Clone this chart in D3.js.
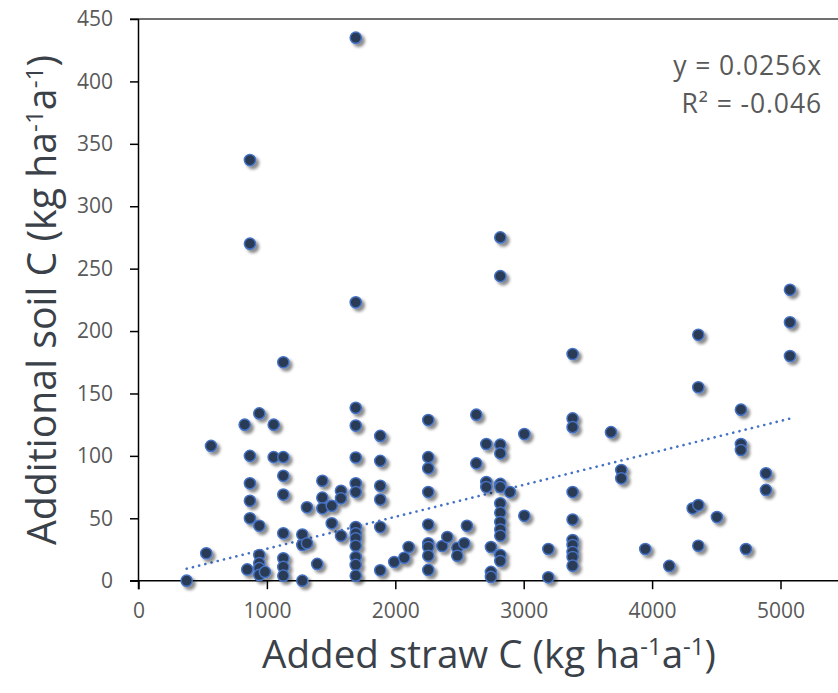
<!DOCTYPE html>
<html><head><meta charset="utf-8">
<script src="https://cdn.jsdelivr.net/npm/d3@7"></script>
<style>body{margin:0;background:#fff} svg{display:block}</style>
</head><body>
<svg id="chart" width="838" height="693"></svg>
<script>
// ---- data ----
const strawC = [
  375, 528, 565, 827, 847,
  868, 868, 868, 868, 868, 868,
  941, 941, 941, 941, 941, 941, 985,
  1053, 1053,
  1128, 1128, 1128, 1128, 1128, 1128, 1128, 1128,
  1276, 1276, 1276, 1312, 1312, 1392,
  1432, 1432, 1432, 1505, 1505, 1577, 1577, 1577,
  1692, 1692, 1692, 1692, 1692, 1692, 1692, 1692, 1692, 1692, 1692, 1692, 1692, 1692,
  1883, 1883, 1883, 1883, 1883, 1883,
  1992, 2070, 2104,
  2257, 2257, 2257, 2257, 2257, 2257, 2257, 2257, 2257,
  2366, 2405, 2483, 2483, 2537, 2558, 2631, 2631,
  2709, 2709, 2709, 2745, 2745, 2745,
  2818, 2818, 2818, 2818, 2818, 2818, 2818, 2818, 2818, 2818, 2818, 2818, 2818,
  2893, 3005, 3005, 3192, 3192,
  3381, 3381, 3381, 3381, 3381, 3381, 3381, 3381, 3381, 3381,
  3680, 3760, 3760, 3947, 4134, 4316,
  4360, 4360, 4360, 4360, 4505,
  4692, 4692, 4692, 4731, 4887, 4887,
  5074, 5074, 5074
];
const soilC = [
  0, 22, 108, 125, 9,
  337, 270, 100, 78, 64, 50,
  134, 44, 20.6, 14, 10, 4.6, 7,
  125, 99,
  175, 99, 84, 69, 38, 18, 11, 4,
  37, 28.6, 0, 58.8, 30, 13.4,
  80, 66.5, 58, 60, 46, 72, 66, 36,
  435, 223, 138.5, 124.3, 98.7, 78, 71, 43, 38, 34, 28, 19, 12.6, 4,
  116, 96, 76, 65, 43, 8.3,
  15, 18.4, 27,
  128.7, 99, 90, 71, 45, 30, 27, 20, 8.6,
  27.8, 35, 26.4, 20, 30, 44, 133, 94,
  109.5, 79, 75, 27, 7, 3,
  275, 244, 109, 102, 77.5, 75, 62, 54.5, 47, 41, 36, 20.6, 15.8,
  71, 117.5, 52, 25.4, 2.7,
  181.6, 130, 123, 71, 49, 32.6, 28.6, 23, 19, 12,
  119, 88.7, 82, 25.4, 11.8, 58,
  197, 155, 60.6, 28, 51,
  137, 109.5, 104.7, 25.4, 86, 72.7,
  233, 207, 180
];
const xTicks = [0, 1000, 2000, 3000, 4000, 5000];
const yTicks = [0, 50, 100, 150, 200, 250, 300, 350, 400, 450];
const trendSlope = 0.0256;
const equationLines = ["y = 0.0256x", "R² = -0.046"];

// ---- layout ----
const W = 838, H = 693;
const svg = d3.select("#chart");
const x = d3.scaleLinear().domain([0, 6000]).range([138.5, 908.9]);
const y = d3.scaleLinear().domain([0, 450]).range([580.7, 19]);
const FONT = "'Open Sans', 'Noto Sans', sans-serif";

const defs = svg.append("defs");
const f = defs.append("filter").attr("id", "shadow")
  .attr("x", "-50%").attr("y", "-50%").attr("width", "220%").attr("height", "220%");
f.append("feDropShadow").attr("dx", 3).attr("dy", 3).attr("stdDeviation", 1.6)
  .attr("flood-color", "#000").attr("flood-opacity", 0.45);

// top border line
svg.append("line").attr("x1", 130).attr("x2", W).attr("y1", y(450)).attr("y2", y(450))
  .attr("stroke", "#404040").attr("stroke-width", 1.3);

// y axis
const yAxis = svg.append("g").attr("transform", `translate(${x(0)},0)`)
  .call(d3.axisLeft(y).tickValues(yTicks).tickSize(8.5).tickPadding(17).tickSizeOuter(0));
yAxis.select(".domain").remove();
yAxis.selectAll(".tick line").attr("stroke", "#000").attr("stroke-width", 1.5);
yAxis.selectAll(".tick text").attr("font-family", FONT).attr("font-size", 21)
  .attr("fill", "#595959");
svg.append("line").attr("x1", x(0)).attr("x2", x(0)).attr("y1", y(450)).attr("y2", y(0) + 8.5)
  .attr("stroke", "#000").attr("stroke-width", 1.5);

// x axis
const xAxis = svg.append("g").attr("transform", `translate(0,${y(0)})`)
  .call(d3.axisBottom(x).tickValues(xTicks).tickFormat(d3.format("d")).tickSize(8.5).tickPadding(14).tickSizeOuter(0));
xAxis.select(".domain").remove();
xAxis.selectAll(".tick line").attr("stroke", "#000").attr("stroke-width", 1.5);
xAxis.selectAll(".tick text").attr("font-family", FONT).attr("font-size", 21)
  .attr("fill", "#595959");
svg.append("line").attr("x1", 130).attr("x2", W).attr("y1", y(0)).attr("y2", y(0))
  .attr("stroke", "#000").attr("stroke-width", 1.5);

// trendline y = slope * x over data range
const [xmin, xmax] = d3.extent(strawC);
svg.append("line")
  .attr("x1", x(xmin)).attr("y1", y(trendSlope * xmin))
  .attr("x2", x(xmax)).attr("y2", y(trendSlope * xmax))
  .attr("stroke", "#4472C4").attr("stroke-width", 2.6)
  .attr("stroke-linecap", "round").attr("stroke-dasharray", "0.1,6.3");

// points
const pts = strawC.map((s, i) => ({ s, c: soilC[i] }));
svg.append("g").attr("filter", "url(#shadow)")
  .selectAll("circle").data(pts).join("circle")
  .attr("cx", d => x(d.s)).attr("cy", d => y(d.c)).attr("r", 5.6)
  .attr("fill", "#2C3A55").attr("stroke", "#4472C4").attr("stroke-width", 1.5);

// equation
function fitWidth(t, target) {
  const w = t.node().getBBox().width;
  const fs = parseFloat(t.attr("font-size"));
  t.attr("font-size", fs * target / w);
}
equationLines.forEach((line, i) => {
  svg.append("text").attr("x", 822).attr("y", 75 + i * 38)
    .attr("text-anchor", "end").attr("font-family", FONT).attr("font-size", 26.5)
    .attr("letter-spacing", "0.9px")
    .attr("fill", "#595959").text(line);
});

// axis titles with superscripts
function title(g, parts) {
  parts.forEach(p => {
    const ts = g.append("tspan").text(p.t);
    if (p.sup) ts.attr("font-size", "62%").attr("dy", "-0.55em");
    else if (p.after) ts.attr("dy", "0.34em");
  });
}
const titleParts = [
  { t: "(kg ha" }, { t: "-1", sup: true }, { t: "a", after: true },
  { t: "-1", sup: true }, { t: ")", after: true }
];
const xt = svg.append("text").attr("x", 489).attr("y", 668).attr("text-anchor", "middle")
  .attr("font-family", FONT).attr("font-size", 36).attr("fill", "#3A4149");
xt.append("tspan").text("Added straw C ");
title(xt, titleParts);
fitWidth(xt, 454);

const yt = svg.append("text").attr("transform", "translate(56,300) rotate(-90)")
  .attr("text-anchor", "middle")
  .attr("font-family", FONT).attr("font-size", 36).attr("fill", "#3A4149");
yt.append("tspan").text("Additional soil C ");
title(yt, titleParts);
fitWidth(yt, 490);
</script>
</body></html>
